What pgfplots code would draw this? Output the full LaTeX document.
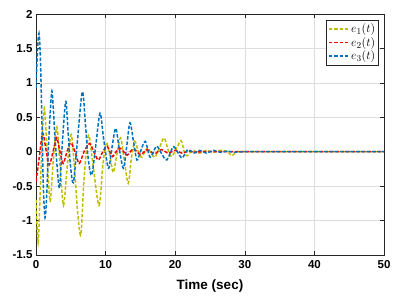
\documentclass[border=0pt]{standalone}
\usepackage{fontspec}
\setmainfont{Liberation Sans}
\usepackage{pgfplots}
\pgfplotsset{compat=1.18}
\definecolor{cY}{RGB}{190,190,0}
\definecolor{cR}{RGB}{255,0,0}
\definecolor{cB}{RGB}{0,114,189}
\definecolor{axc}{RGB}{38,38,38}
\tikzset{eline/.style={line width=1.5pt, dash pattern=on 3.5pt off 1.8pt, smooth, tension=0.5}}
\begin{document}
\begin{tikzpicture}
\useasboundingbox (-36pt,-40pt) rectangle (370pt,255pt);
\begin{axis}[
  at={(0,0)}, anchor=south west,
  scale only axis, width=348pt, height=241pt,
  xmin=0, xmax=50, ymin=-1.5, ymax=2,
  xtick={0,10,...,50},
  ytick={-1.5,-1,-0.5,0,0.5,1,1.5,2},
  yticklabels={-1.5,-1,-0.5,0,0.5,1,1.5,2},
  /pgf/number format/assume math mode=true,
  tick label style={font=\fontsize{11.5}{13}\selectfont\bfseries},
  xticklabel style={yshift=-1.5pt},
  xlabel={Time (sec)},
  xlabel style={font=\fontsize{13.5}{15}\selectfont\bfseries, yshift=-5pt},
  grid=major,
  major grid style={draw=black!13, line width=0.5pt},
  axis line style={draw=axc, line width=0.6pt},
  tick style={draw=axc, line width=0.6pt},
  tick align=inside, major tick length=4pt,
  xtick pos=both, ytick pos=both,
  legend style={at={(rel axis cs:0.985,0.975)}, anchor=north east,
    draw=axc, fill=white, font=\fontsize{13}{15}\selectfont,
    row sep=-1pt, inner sep=1.5pt, cells={anchor=west}},
  legend image code/.code={\draw[#1, line width=1.7pt] plot coordinates {(0cm,0cm) (0.34cm,0cm) (0.68cm,0cm)};},
]
\addplot[color=cY, eline] coordinates {
(0,-0.7) (0.3,-1.32) (0.6,-0.6) (0.9,0.2) (1.2,0.63) (1.5,0.2) (1.75,-0.35)
(2.05,-0.72) (2.5,-0.1) (3.0,0.36) (3.45,-0.2) (3.95,-0.78) (4.5,-0.2)
(5.05,0.25) (5.5,-0.2) (6.0,-0.9) (6.45,-1.2) (6.9,-0.4) (7.55,0.24)
(8.2,-0.2) (9.05,-0.78) (9.6,-0.2) (10.1,0.13) (10.6,-0.05) (11.1,-0.3)
(11.6,-0.05) (12.15,0.2) (12.65,-0.1) (13.25,-0.46) (13.7,-0.1) (14.2,0.15)
(14.7,0.0) (15.2,-0.08) (16.0,0.05) (17.0,-0.08) (17.7,0.05) (18.4,0.2)
(19.0,0.02) (19.5,-0.07) (20.2,0.05) (20.85,0.16) (21.3,0.0) (21.7,-0.06)
(22.5,0.02) (23.5,-0.02) (24.5,0.02) (25.5,-0.01) (26.5,0.02) (27.5,0.0)
(28.2,-0.06) (28.8,0.0) (30,0) (40,0) (50,0)
};
\addlegendentry{$e_1(t)$}
\addplot[color=cR, eline] coordinates {
(0,-0.43) (0.45,-0.1) (0.95,0.27) (1.4,0.05) (1.9,-0.19) (2.45,0.0)
(2.97,0.2) (3.45,0.0) (3.9,-0.17) (4.45,0.0) (5.0,0.13) (5.6,0.0)
(6.2,-0.17) (6.9,0.0) (7.7,0.12) (8.3,0.0) (8.95,-0.12) (9.6,0.0)
(10.2,0.08) (10.6,0.0) (11.0,-0.07) (11.5,0.0) (12.1,0.05) (12.6,0.0)
(13.1,-0.05) (14.0,0.04) (15.0,-0.04) (16.0,0.03) (17.0,-0.03) (18.0,0.03)
(19.0,-0.02) (20.0,0.02) (21.0,-0.02) (22.0,0.01) (23.0,-0.01) (24,0) (37,0) (50,0)
};
\addlegendentry{$e_2(t)$}
\addplot[color=cB, eline] coordinates {
(0,0.92) (0.2,1.45) (0.43,1.72) (0.65,1.3) (0.9,0.2) (1.05,-0.5) (1.3,-0.96)
(1.55,-0.6) (1.8,0.1) (2.25,0.87) (2.5,0.6) (2.8,0.1) (3.35,-0.53) (3.7,0.0)
(4.26,0.73) (4.6,0.3) (4.95,-0.2) (5.37,-0.45) (5.9,0.1) (6.65,0.87)
(7.1,0.4) (7.5,-0.1) (8.0,-0.34) (8.6,0.1) (9.2,0.56) (9.7,0.2) (10.4,-0.24)
(10.9,0.05) (11.45,0.34) (11.95,0.05) (12.55,-0.24) (13.0,0.05) (13.5,0.42)
(14.0,0.15) (14.5,-0.12) (15.0,0.0) (15.7,0.15) (16.4,-0.08) (17.3,0.08)
(18.0,-0.02) (18.8,-0.12) (19.7,0.07) (20.3,0.0) (21.0,-0.09) (21.8,0.03)
(22.7,-0.02) (23.5,0.02) (24.5,-0.02) (25.5,0.02) (26.5,-0.01) (27.5,0.01)
(28.5,-0.01) (30,0) (40,0) (50,0)
};
\addlegendentry{$e_3(t)$}
\end{axis}
\end{tikzpicture}
\end{document}
